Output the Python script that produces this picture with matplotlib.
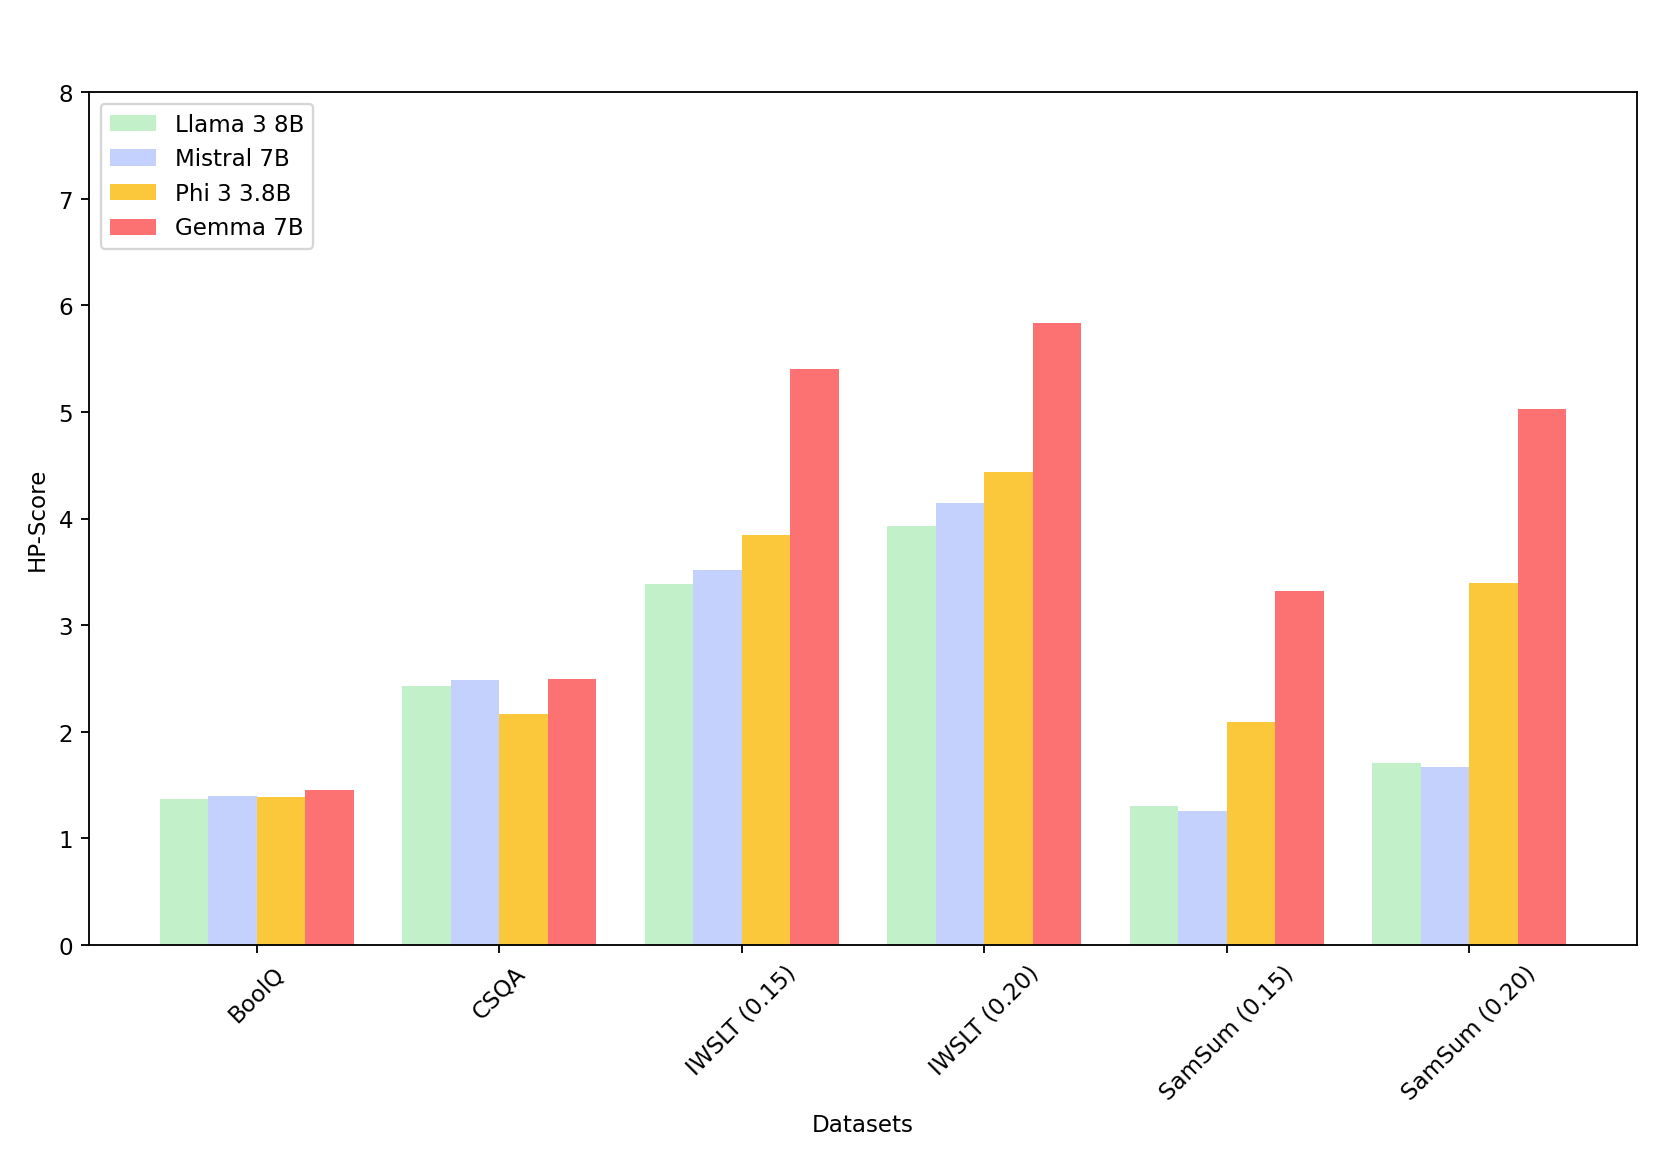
import matplotlib.pyplot as plt
import numpy as np

datasets = ["BoolQ", "CSQA", "IWSLT (0.15)", "IWSLT (0.20)", "SamSum (0.15)", "SamSum (0.20)"]
models = ["Llama 3 8B", "Mistral 7B", "Phi 3 3.8B", "Gemma 7B"]

llama = [1.37, 2.43, 3.39, 3.93, 1.30, 1.71]
mistral = [1.40, 2.49, 3.52, 4.15, 1.26, 1.67]
phi = [1.39, 2.17, 3.85, 4.44, 2.09, 3.40]
gemma = [1.45, 2.50, 5.40, 5.84, 3.32, 5.03]

colors = ["#c2f0c8", "#c5d1fd", "#fac83a", "#fc7171"]

fig, ax = plt.subplots(figsize=(10, 7), dpi=166.1)
fig.subplots_adjust(left=0.0537, right=0.9853, bottom=0.1866, top=0.92)

x = np.arange(len(datasets))
width = 0.2
series = [llama, mistral, phi, gemma]
for i, (vals, name) in enumerate(zip(series, models)):
    ax.bar(x + (i - 1.5) * width, vals, width, label=name, color=colors[i])

ax.set_ylim(0, 8)
ax.set_xticks(x)
ax.set_xticklabels(datasets, rotation=45)
ax.set_xlabel("Datasets")
ax.set_ylabel("HP-Score")
ax.legend(loc="upper left")

fig.savefig("out.png", dpi=166.1)
